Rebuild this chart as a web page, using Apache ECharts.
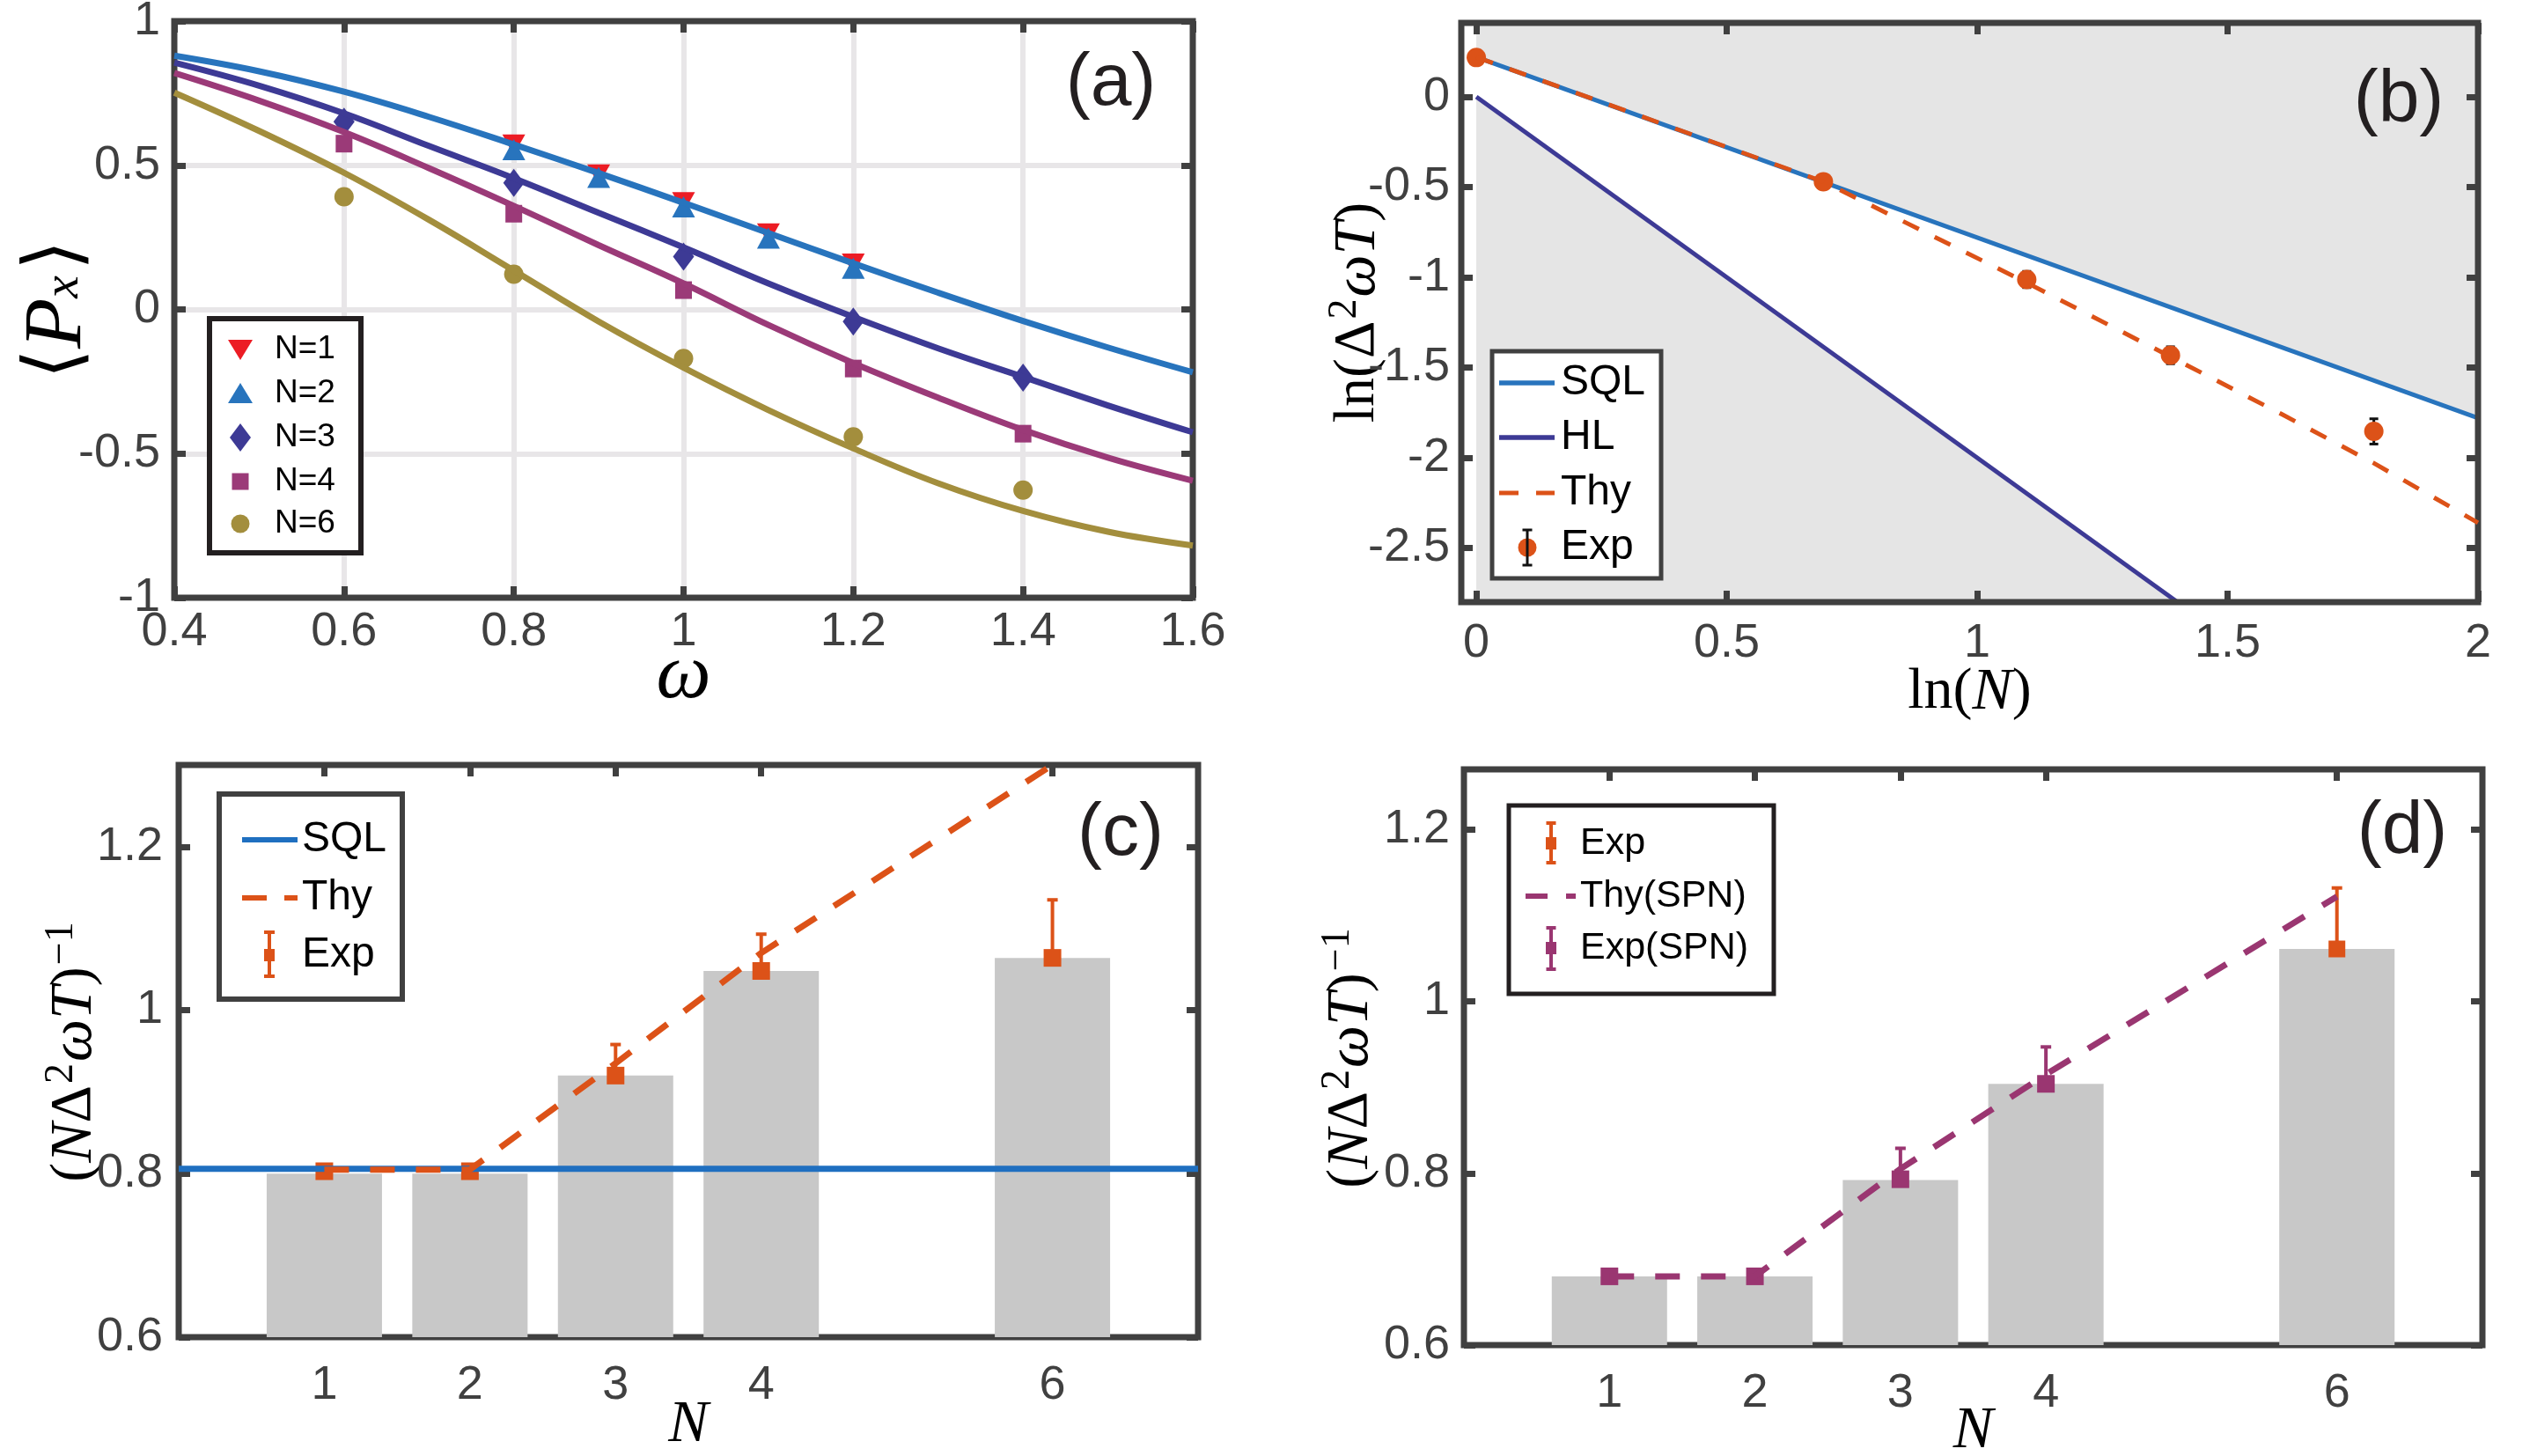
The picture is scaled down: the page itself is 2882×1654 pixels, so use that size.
<!DOCTYPE html>
<html lang="en">
<head>
<meta charset="utf-8">
<script src="https://cdn.jsdelivr.net/npm/echarts@6.0.0/dist/echarts.min.js"></script>
<style>
  html, body { margin: 0; padding: 0; background: #fff; }
  #chart { width: 2882px; height: 1654px; }
</style>
</head>
<body>
<div id="chart"></div>
<script>
// ---- (a) <P_x> vs omega : fitted curves read every 0.1
const omegaFit = [0.4, 0.5, 0.6, 0.7, 0.8, 0.9, 1.0, 1.1, 1.2, 1.3, 1.4, 1.5, 1.6];
const fitN12 = [0.88, 0.826, 0.755, 0.668, 0.572, 0.473, 0.37, 0.265, 0.16, 0.058, -0.04, -0.132, -0.218];
const fitN3 = [0.856, 0.776, 0.68, 0.567, 0.455, 0.335, 0.215, 0.09, -0.026, -0.135, -0.234, -0.333, -0.426];
const fitN4 = [0.82, 0.724, 0.615, 0.49, 0.359, 0.223, 0.09, -0.054, -0.186, -0.306, -0.418, -0.514, -0.594];
const fitN6 = [0.752, 0.619, 0.474, 0.311, 0.135, -0.042, -0.202, -0.349, -0.482, -0.603, -0.699, -0.771, -0.819];

// (a) measured points
const omegaA12 = [0.8, 0.9, 1.0, 1.1, 1.2];
const pxN1 = [0.572, 0.468, 0.372, 0.263, 0.159];
const pxN2 = [0.554, 0.458, 0.356, 0.247, 0.143];
const errN12 = [0.016, 0.016, 0.016, 0.016, 0.016];
const omegaA = [0.6, 0.8, 1.0, 1.2, 1.4];
const pxN3 = [0.651, 0.439, 0.183, -0.042, -0.237];
const pxN4 = [0.575, 0.332, 0.067, -0.205, -0.431];
const pxN6 = [0.391, 0.122, -0.17, -0.442, -0.627];
const errA = [0.017, 0.017, 0.017, 0.017, 0.017];

// ---- (b) ln(Delta^2 omega T) vs ln N
const lnN = [0, 0.693, 1.099, 1.386, 1.792];
const expB = [0.218, -0.47, -1.012, -1.432, -1.854];
const errB = [0.008, 0.008, 0.045, 0.047, 0.07];
const sqlBX = [0, 2];
const sqlBY = [0.22, -1.78];
const hlBX = [0, 1.4];
const hlBY = [0, -2.8];
const thyBX = [0, 0.693, 1.099, 1.386, 1.609, 1.792, 2.0];
const thyBY = [0.22, -0.47, -1.03, -1.44, -1.76, -2.03, -2.36];

// ---- (c) (N Delta^2 omega T)^-1
const nVals = [1, 2, 3, 4, 6];
const barC = [0.80, 0.80, 0.92, 1.048, 1.064];
const sqlC = 0.806;
const thyC = [0.805, 0.805, 0.935, 1.07, 1.30];
const expC = [0.803, 0.803, 0.92, 1.048, 1.064];
const errC = [0.004, 0.004, 0.038, 0.045, 0.071];

// ---- (d) with SPN
const barD = [0.68, 0.68, 0.792, 0.904, 1.061];
const thyD = [0.68, 0.68, 0.805, 0.915, 1.122];
const nSpn = [1, 2, 3, 4];
const expSpn = [0.68, 0.68, 0.793, 0.904];
const errSpn = [0.003, 0.003, 0.036, 0.043];
const nExpD = [6];
const expD = [1.061];
const errD = [0.071];

// tick labels
const ticksN = [1, 2, 3, 4, 6];
const ticksBX = [0, 0.5, 1, 1.5, 2];
const ticksBY = [-2.5, -2, -1.5, -1, -0.5, 0];
const ticksCD = [0.6, 0.8, 1, 1.2];

const sans = '"Liberation Sans", Arial, Helvetica, sans-serif';
const serif = '"Liberation Serif", "DejaVu Serif", "Times New Roman", serif';
const axisGrey = '#404040';
const cBlue = '#2874bd', cIndigo = '#3d3a95', cMag = '#9b3a78', cOlive = '#a38e3d';
const cRed = '#ec1c24', cOrange = '#dc5218', cPurple = '#9a3671', cBar = '#c8c8c8', cShade = '#e5e5e5';

const zip = (xs, ys) => xs.map((x, i) => [x, ys[i]]);

function axis(g, pos, min, max, ticks, o) {
  o = o || {};
  const a = {
    type: 'value', gridIndex: g, position: pos, min: min, max: max,
    axisLine: { show: false, onZero: false },
    axisTick: { show: true, inside: true, length: 13, lineStyle: { color: axisGrey, width: 7 } },
    axisLabel: { show: !!o.label, margin: o.margin || 14, fontSize: 54, color: axisGrey, fontFamily: sans },
    splitLine: { show: !!o.split, showMinLine: false, showMaxLine: false, lineStyle: { color: '#e8e6e8', width: 6 } }
  };
  if (Array.isArray(ticks)) {
    a.axisTick.customValues = ticks;
    a.axisLabel.customValues = ticks;
  } else {
    a.interval = ticks;
  }
  if (o.name) {
    a.name = o.name;
    a.nameLocation = 'middle';
    a.nameGap = o.gap;
    a.nameRotate = o.rotate || 0;
    a.nameMoveOverlap = false;
    a.nameTextStyle = { fontFamily: serif, fontSize: 66, color: '#000', rich: o.rich };
  }
  return a;
}

const richMath = {
  rm: { fontFamily: serif, fontSize: 66, color: '#000' },
  it: { fontFamily: serif, fontSize: 68, fontStyle: 'italic', color: '#000' },
  sup: { fontFamily: serif, fontSize: 46, color: '#000', padding: [0, 2, 30, 2] }
};
const richP = {
  br: { fontFamily: '"DejaVu Serif", serif', fontSize: 88, color: '#000' },
  p: { fontFamily: serif, fontSize: 94, fontStyle: 'italic', color: '#000' },
  sub: { fontFamily: serif, fontSize: 58, fontStyle: 'italic', color: '#000', padding: [14, 6, 0, 0] }
};
const richW = { it: { fontFamily: serif, fontSize: 88, fontStyle: 'italic', color: '#000' } };

const nameInv = '{rm|(}{it|N}{rm|Δ}{sup|2}{it|ωT}{rm|)}{sup|−1}';

function line(g, xs, ys, color, width, dash, extra) {
  return Object.assign({
    type: 'line', xAxisIndex: 2 * g, yAxisIndex: 2 * g, data: zip(xs, ys),
    showSymbol: false, lineStyle: { color: color, width: width, type: dash || 'solid' },
    itemStyle: { color: color }, animation: false
  }, extra || {});
}
function points(g, xs, ys, symbol, size, color) {
  return {
    type: 'scatter', xAxisIndex: 2 * g, yAxisIndex: 2 * g, data: zip(xs, ys),
    symbol: symbol, symbolSize: size, itemStyle: { color: color, opacity: 1 }, animation: false
  };
}
function errorBars(g, xs, ys, es, color, lw, cap, stemW) {
  const sw = stemW || lw;
  return {
    type: 'custom', xAxisIndex: 2 * g, yAxisIndex: 2 * g,
    data: xs.map((x, i) => [x, ys[i], es[i]]),
    encode: { x: 0, y: 1 },
    animation: false,
    renderItem: function (params, api) {
      const x = api.value(0), y = api.value(1), e = api.value(2);
      const top = api.coord([x, y + e]);
      const bot = api.coord([x, y - e]);
      const st = { stroke: color, lineWidth: lw };
      return {
        type: 'group', children: [
          { type: 'line', shape: { x1: top[0], y1: top[1], x2: bot[0], y2: bot[1] }, style: { stroke: color, lineWidth: sw } },
          { type: 'line', shape: { x1: top[0] - cap / 2, y1: top[1], x2: top[0] + cap / 2, y2: top[1] }, style: st },
          { type: 'line', shape: { x1: bot[0] - cap / 2, y1: bot[1], x2: bot[0] + cap / 2, y2: bot[1] }, style: st }
        ]
      };
    }
  };
}

// legend helpers (drawn as graphics)
function box(x, y, w, h, stroke, lw) {
  return { type: 'rect', z: 100, shape: { x: x, y: y, width: w, height: h }, style: { fill: '#fff', stroke: stroke, lineWidth: lw } };
}
function txt(x, y, s, size) {
  return { type: 'text', z: 101, x: x, y: y, style: { text: s, fontSize: size, fontFamily: sans, fill: '#000', align: 'left', verticalAlign: 'middle' } };
}
function seg(x1, y1, x2, y2, color, w) {
  return { type: 'line', z: 101, shape: { x1: x1, y1: y1, x2: x2, y2: y2 }, style: { stroke: color, lineWidth: w } };
}
function poly(pts, color) {
  return { type: 'polygon', z: 101, shape: { points: pts }, style: { fill: color } };
}
function ibeam(cx, y1, y2, cap, color, w) {
  return [seg(cx, y1, cx, y2, color, w), seg(cx - cap / 2, y1, cx + cap / 2, y1, color, w), seg(cx - cap / 2, y2, cx + cap / 2, y2, color, w)];
}
function panelTag(x, y, s) {
  return { type: 'text', z: 101, x: x, y: y, style: { text: s, fontSize: 84, fontFamily: sans, fill: '#231f20', align: 'center', verticalAlign: 'middle' } };
}

const graphics = [];
// legend (a)
(function () {
  const cx = 273, rows = [397, 447, 497, 547, 595];
  graphics.push(box(238, 362, 172, 266, '#231f20', 6));
  graphics.push(poly([[cx - 14, rows[0] - 11], [cx + 14, rows[0] - 11], [cx, rows[0] + 12]], cRed));
  graphics.push(poly([[cx - 14, rows[1] + 11], [cx + 14, rows[1] + 11], [cx, rows[1] - 12]], cBlue));
  graphics.push(poly([[cx, rows[2] - 16], [cx + 12, rows[2]], [cx, rows[2] + 16], [cx - 12, rows[2]]], cIndigo));
  graphics.push({ type: 'rect', z: 101, shape: { x: cx - 9.5, y: rows[3] - 9.5, width: 19, height: 19 }, style: { fill: cMag } });
  graphics.push({ type: 'circle', z: 101, shape: { cx: cx, cy: rows[4], r: 10.5 }, style: { fill: cOlive } });
  ['N=1', 'N=2', 'N=3', 'N=4', 'N=6'].forEach((s, i) => graphics.push(txt(312, rows[i], s, 37)));
})();
// legend (b)
(function () {
  const rows = [435, 497, 560, 622];
  graphics.push(box(1695, 399, 192, 258, axisGrey, 5));
  graphics.push(seg(1703, rows[0], 1766, rows[0], cBlue, 5.5));
  graphics.push(seg(1703, rows[1], 1766, rows[1], cIndigo, 5.5));
  graphics.push(seg(1703, rows[2], 1725, rows[2], cOrange, 5));
  graphics.push(seg(1745, rows[2], 1766, rows[2], cOrange, 5));
  graphics.push({ type: 'circle', z: 101, shape: { cx: 1735, cy: rows[3], r: 10.5 }, style: { fill: cOrange } });
  ibeam(1735, rows[3] - 20, rows[3] + 20, 11, '#111', 3).forEach(e => graphics.push(e));
  ['SQL', 'HL', 'Thy', 'Exp'].forEach((s, i) => graphics.push(txt(1773, rows[i], s, 48)));
})();
// legend (c)
(function () {
  const rows = [954, 1020, 1085];
  graphics.push(box(249, 902, 208, 233, axisGrey, 6));
  graphics.push(seg(275, rows[0], 338, rows[0], '#1f6fc0', 6));
  graphics.push(seg(275, rows[1], 303, rows[1], cOrange, 6));
  graphics.push(seg(323, rows[1], 338, rows[1], cOrange, 6));
  ibeam(306, rows[2] - 26, rows[2] + 24, 12, cOrange, 4).forEach(e => graphics.push(e));
  graphics.push({ type: 'rect', z: 101, shape: { x: 300, y: rows[2] - 7, width: 12, height: 14 }, style: { fill: cOrange } });
  ['SQL', 'Thy', 'Exp'].forEach((s, i) => graphics.push(txt(343, rows[i], s, 48)));
})();
// legend (d)
(function () {
  const rows = [958, 1018, 1077];
  graphics.push(box(1714, 915, 301, 214, '#231f20', 5));
  ibeam(1762, rows[0] - 23, rows[0] + 22, 11, cOrange, 4).forEach(e => graphics.push(e));
  graphics.push({ type: 'rect', z: 101, shape: { x: 1756, y: rows[0] - 7, width: 12, height: 14 }, style: { fill: cOrange } });
  graphics.push(seg(1733, rows[1], 1758, rows[1], cPurple, 6));
  graphics.push(seg(1779, rows[1], 1790, rows[1], cPurple, 6));
  ibeam(1762, rows[2] - 23, rows[2] + 24, 11, cPurple, 4).forEach(e => graphics.push(e));
  graphics.push({ type: 'rect', z: 101, shape: { x: 1756, y: rows[2] - 7, width: 12, height: 14 }, style: { fill: cPurple } });
  ['Exp', 'Thy(SPN)', 'Exp(SPN)'].forEach((s, i) => graphics.push(txt(1795, rows[i], s, 43)));
})();
graphics.push(panelTag(1262, 96, '(a)'));
graphics.push(panelTag(2725, 115, '(b)'));
graphics.push(panelTag(1273, 948, '(c)'));
graphics.push(panelTag(2729, 946, '(d)'));

const gridBase = { show: true, borderColor: axisGrey, borderWidth: 7, backgroundColor: 'transparent', containLabel: false, outerBoundsMode: 'none' };

const triDown = 'path://M0,0L20,0L10,17Z';

const chart = echarts.init(document.getElementById('chart'));
chart.setOption({
  backgroundColor: '#fff',
  animation: false,
  grid: [
    Object.assign({ left: 198, top: 24, width: 1157, height: 655 }, gridBase),
    Object.assign({ left: 1660, top: 26, width: 1155, height: 658 }, gridBase),
    Object.assign({ left: 203, top: 869, width: 1158, height: 650 }, gridBase),
    Object.assign({ left: 1663, top: 874, width: 1157, height: 654 }, gridBase)
  ],
  xAxis: [
    axis(0, 'bottom', 0.4, 1.6, 0.2, { label: true, split: true, margin: 12, name: '{it|ω}', gap: 46, rich: richW }),
    axis(0, 'top', 0.4, 1.6, 0.2),
    axis(1, 'bottom', -0.03, 2, ticksBX, { label: true, margin: 20, name: '{rm|ln(}{it|N}{rm|)}', gap: 69, rich: richMath }),
    axis(1, 'top', -0.03, 2, ticksBX),
    axis(2, 'bottom', 0, 7, ticksN, { label: true, margin: 28, name: '{it|N}', gap: 66, rich: richMath }),
    axis(2, 'top', 0, 7, ticksN),
    axis(3, 'bottom', 0, 7, ticksN, { label: true, margin: 28, name: '{it|N}', gap: 64, rich: richMath }),
    axis(3, 'top', 0, 7, ticksN)
  ],
  yAxis: [
    axis(0, 'left', -1, 1, 0.5, { label: true, split: true, margin: 16, name: '{br|⟨}{p|P}{sub|x}{br|⟩}', gap: 85, rotate: 90, rich: richP }),
    axis(0, 'right', -1, 1, 0.5),
    axis(1, 'left', -2.8, 0.41, ticksBY, { label: true, margin: 13, name: '{rm|ln(Δ}{sup|2}{it|ωT}{rm|)}', gap: 79, rotate: 90, rich: richMath }),
    axis(1, 'right', -2.8, 0.41, ticksBY),
    axis(2, 'left', 0.6, 1.3, ticksCD, { label: true, margin: 18, name: nameInv, gap: 80, rotate: 90, rich: richMath }),
    axis(2, 'right', 0.6, 1.3, ticksCD),
    axis(3, 'left', 0.6, 1.27, ticksCD, { label: true, margin: 16, name: nameInv, gap: 90, rotate: 90, rich: richMath }),
    axis(3, 'right', 0.6, 1.27, ticksCD)
  ],
  series: [
    // (a)
    line(0, omegaFit, fitN12, cBlue, 7, 'solid', { smooth: 0.4 }),
    line(0, omegaFit, fitN3, cIndigo, 7, 'solid', { smooth: 0.4 }),
    line(0, omegaFit, fitN4, cMag, 7, 'solid', { smooth: 0.4 }),
    line(0, omegaFit, fitN6, cOlive, 7, 'solid', { smooth: 0.4 }),
    points(0, omegaA12, pxN1, triDown, [26, 23], cRed),
    errorBars(0, omegaA12, pxN1, errN12, '#111', 3.5, 11, 1.5),
    points(0, omegaA12, pxN2, 'triangle', [26, 24], cBlue),
    errorBars(0, omegaA12, pxN2, errN12, '#111', 3.5, 11, 1.5),
    points(0, omegaA, pxN3, 'diamond', [24, 32], cIndigo),
    errorBars(0, omegaA, pxN3, errA, '#111', 3.5, 11, 1.5),
    points(0, omegaA, pxN4, 'rect', [19, 20], cMag),
    errorBars(0, omegaA, pxN4, errA, '#111', 3.5, 11, 1.5),
    points(0, omegaA, pxN6, 'circle', 22, cOlive),
    errorBars(0, omegaA, pxN6, errA, '#111', 3.5, 11, 1.5),
    // (b)
    line(1, sqlBX, sqlBY, cBlue, 5, 'solid', { z: -1, areaStyle: { origin: 'end', color: cShade, opacity: 1 } }),
    line(1, hlBX, hlBY, cIndigo, 5, 'solid', { z: -1, areaStyle: { origin: 'start', color: cShade, opacity: 1 } }),
    line(1, thyBX, thyBY, cOrange, 5, [20, 20]),
    points(1, lnN, expB, 'circle', 22, cOrange),
    errorBars(1, lnN, expB, errB, '#111', 3, 10),
    // (c)
    { type: 'bar', xAxisIndex: 4, yAxisIndex: 4, data: zip(nVals, barC), barWidth: 131, itemStyle: { color: cBar }, animation: false },
    line(2, [0, 7], [sqlC, sqlC], '#1f6fc0', 7),
    line(2, nVals, thyC, cOrange, 7, [28, 24]),
    errorBars(2, nVals, expC, errC, cOrange, 4, 12),
    points(2, nVals, expC, 'rect', 20, cOrange),
    // (d)
    { type: 'bar', xAxisIndex: 6, yAxisIndex: 6, data: zip(nVals, barD), barWidth: 131, itemStyle: { color: cBar }, animation: false },
    line(3, nVals, thyD, cPurple, 7, [28, 24]),
    errorBars(3, nSpn, expSpn, errSpn, cPurple, 4, 12),
    points(3, nSpn, expSpn, 'rect', 20, cPurple),
    errorBars(3, nExpD, expD, errD, cOrange, 4, 12),
    points(3, nExpD, expD, 'rect', 19, cOrange)
  ],
  graphic: graphics
});
</script>
</body>
</html>
